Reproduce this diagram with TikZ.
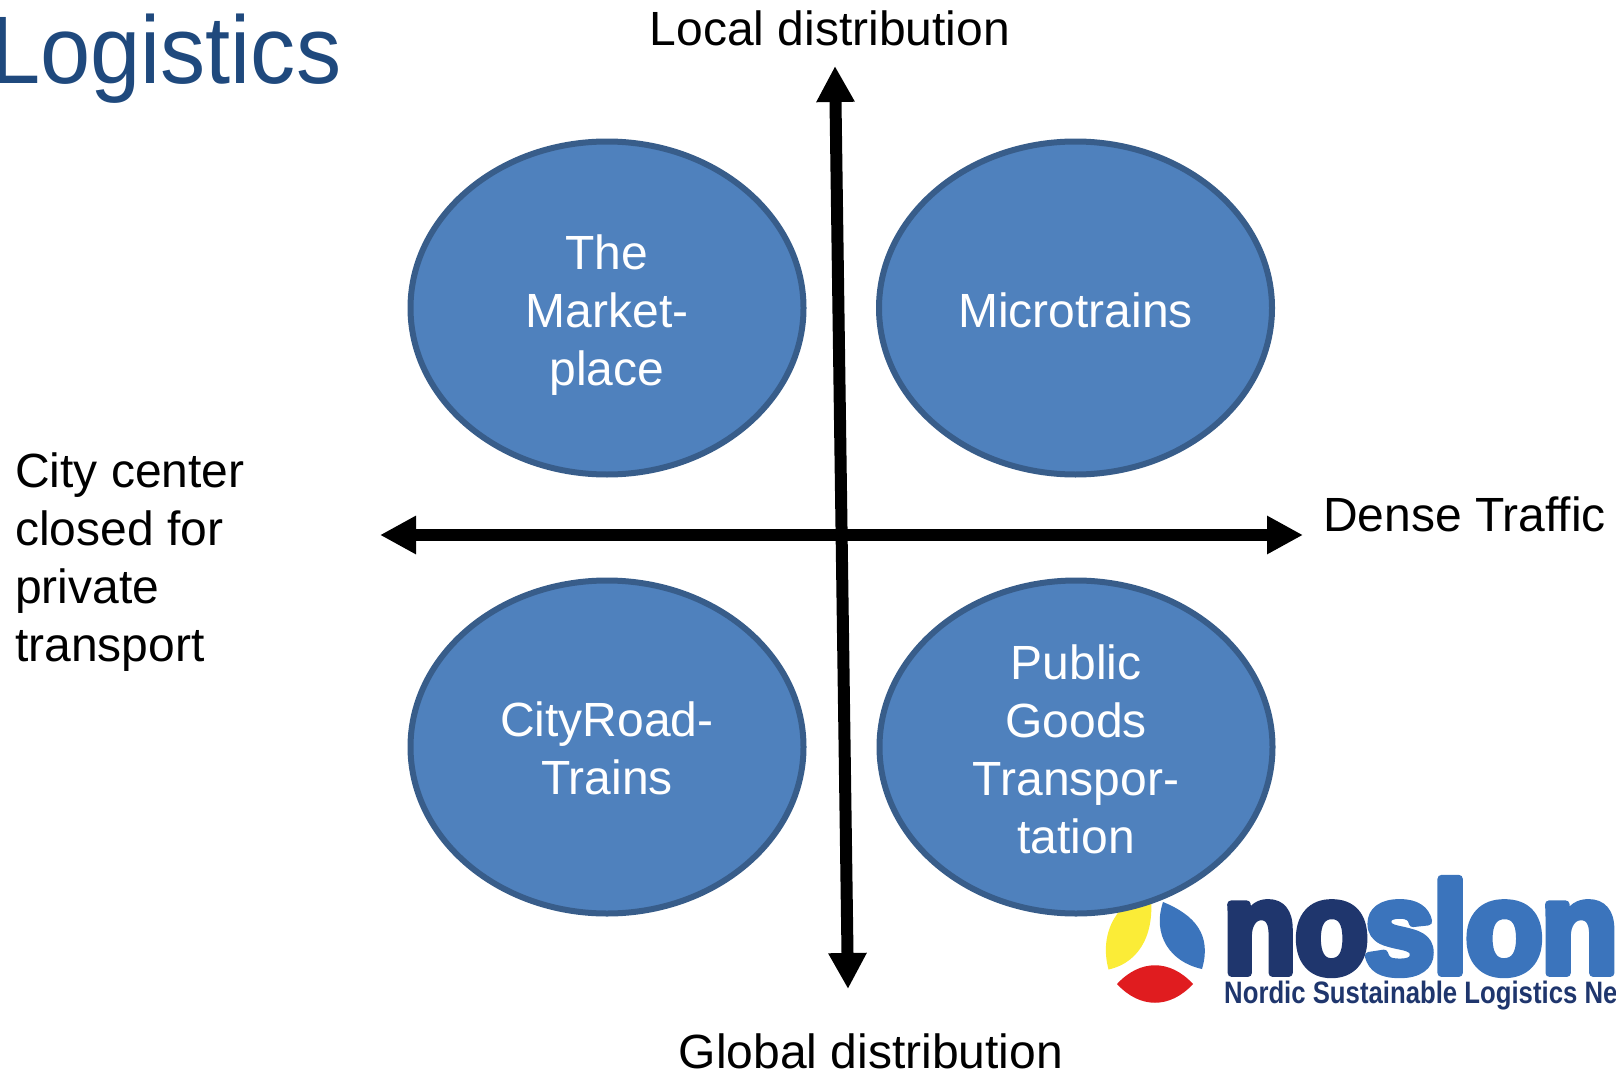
\documentclass[tikz,border=0pt]{standalone}
\usepackage{fontspec}
\usepackage{pgf,tikz}
\usetikzlibrary{arrows.meta,shapes.geometric}
\setmainfont{Liberation Sans}
\newfontfamily\titlefont[FakeStretch=0.94]{Liberation Sans}
\newfontfamily\logobig[FakeBold=6,FakeStretch=0.92,LetterSpace=-1]{Liberation Sans Bold}
\newfontfamily\logowide[FakeBold=6,FakeStretch=0.98,LetterSpace=-2]{Liberation Sans Bold}
\newfontfamily\logosmall[FakeStretch=0.83]{Liberation Sans Bold}
\newcommand{\ovaltop}[1]{\rule{0pt}{#1pt}}
\definecolor{ovalfill}{rgb}{0.31,0.506,0.741}
\definecolor{ovaldraw}{rgb}{0.22,0.365,0.541}
\definecolor{titleblue}{rgb}{0.122,0.286,0.49}
\definecolor{logodark}{rgb}{0.122,0.212,0.427}
\definecolor{logoblue}{rgb}{0.231,0.455,0.737}
\definecolor{logoyellow}{rgb}{0.984,0.925,0.216}
\definecolor{logored}{rgb}{0.878,0.11,0.122}
\tikzset{
  oval/.style={ellipse,draw=ovaldraw,fill=ovalfill,line width=6pt,minimum width=393pt,minimum height=333pt,inner sep=0pt,text=white,align=center,font=\fontsize{48}{58}\selectfont},
  axislabel/.style={inner sep=0pt,align=left,font=\fontsize{48}{58}\selectfont},
  axis/.style={<->,line width=12pt}
}
\begin{document}
\begin{tikzpicture}[line cap=round,line join=round,>={Triangle[length=36pt,width=36pt]},x=1pt,y=-1pt]
\useasboundingbox (0,0) rectangle (1616,1070);
\fill[logoyellow] (1108.5,969.5) .. controls (1098,930) and (1120,900) .. (1150,890) .. controls (1156,930) and (1142,962) .. (1108.5,969.5) -- cycle;
\fill[logoblue] (1163,902) .. controls (1195,915) and (1212,935) .. (1202,969) .. controls (1170,962) and (1152,935) .. (1163,902) -- cycle;
\fill[logored] (1117,984) .. controls (1140,959) and (1170,959) .. (1193,984) .. controls (1170,1009) and (1140,1009) .. (1117,984) -- cycle;
\node[anchor=base west,inner sep=0pt,text=logodark,font=\fontsize{130}{130}\logobig] (nosNo) at (1223,973) {no};
\node[anchor=base west,inner sep=0pt,text=logoblue,font=\fontsize{130}{130}\logowide] (nosSlon) at (1364,973) {slon};
\node[anchor=base west,inner sep=0pt,text=logodark,font=\fontsize{31}{31}\logosmall] (nosName) at (1224,1003) {Nordic Sustainable Logistics Ne};
\node[anchor=base west,inner sep=0pt,text=titleblue,font=\fontsize{96}{96}\titlefont] (title) at (-10,84) {Logistics};
\node[oval] (market) at (607,308) {\ovaltop{48}The\\Market-\\place};
\node[oval] (micro) at (1075.5,308) {\ovaltop{40}Microtrains};
\node[oval] (cityroad) at (607,747) {\ovaltop{38}CityRoad-\\Trains};
\node[oval] (public) at (1076,747) {\ovaltop{40}Public\\Goods\\Transpor-\\tation};
\node[axislabel] (local) at (830,28) {Local distribution};
\node[axislabel] (global) at (871,1051) {Global distribution};
\node[axislabel,anchor=west] (dense) at (1323,514) {Dense Traffic};
\node[axislabel,anchor=west] (city) at (15,562) {City center\\closed for\\private\\transport};
\coordinate (north) at (835,66);
\coordinate (south) at (848,989);
\coordinate (west) at (380,535);
\coordinate (east) at (1303,535);
\draw[axis] (north) -- (south);
\draw[axis] (west) -- (east);
\end{tikzpicture}
\end{document}
